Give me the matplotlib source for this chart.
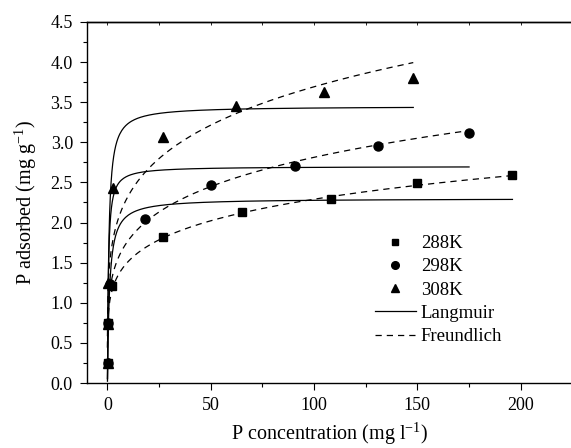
import numpy as np
import matplotlib
matplotlib.use("Agg")
import matplotlib.pyplot as plt
from matplotlib.lines import Line2D
from matplotlib.ticker import MultipleLocator, FormatStrFormatter

plt.rcParams['font.family'] = ['Liberation Serif', 'DejaVu Serif']
plt.rcParams['mathtext.fontset'] = 'custom'
plt.rcParams['mathtext.rm'] = 'Liberation Serif'
plt.rcParams['mathtext.it'] = 'Liberation Serif:italic'

# Equilibrium data: P concentration (mg/l) vs P adsorbed (mg/g)
temps = ['288K', '298K', '308K']
c_288 = [0.2, 0.5, 2.0, 27, 65, 108, 150, 196]
q_288 = [0.25, 0.75, 1.21, 1.82, 2.13, 2.29, 2.49, 2.59]
c_298 = [0.2, 0.5, 1.0, 18, 50, 91, 131, 175]
q_298 = [0.25, 0.75, 1.24, 2.04, 2.47, 2.70, 2.96, 3.11]
c_308 = [0.1, 0.4, 0.3, 2.6, 27, 62, 105, 148]
q_308 = [0.25, 0.74, 1.25, 2.43, 3.07, 3.45, 3.63, 3.80]

# Isotherm fit parameters
langmuir_qm = [2.30, 2.70, 3.45]
langmuir_kl = [1.0, 2.2, 1.5]
freundlich_kf = [1.00, 1.12, 1.47]
freundlich_inv_n = [0.18, 0.20, 0.20]

c_data = [c_288, c_298, c_308]
q_data = [q_288, q_298, q_308]
markers = ['s', 'o', '^']
msizes = [5.5, 6.5, 7.0]

fig = plt.figure(figsize=(5.71, 4.48), dpi=100)
ax = fig.add_axes([0.152, 0.145, 0.8504, 0.806])

for c, q, qm, kl, kf, inv_n, m, ms in zip(c_data, q_data, langmuir_qm, langmuir_kl,
                                          freundlich_kf, freundlich_inv_n, markers, msizes):
    cc = np.concatenate([np.linspace(0.01, 5, 200), np.linspace(5, max(c), 300)])
    ax.plot(cc, qm * kl * cc / (1 + kl * cc), color='black', lw=0.9)
    ax.plot(cc, kf * cc ** inv_n, color='black', lw=0.9, linestyle=(0, (5, 4)))
    ax.plot(c, q, linestyle='none', marker=m, ms=ms, color='black')

ax.set_xlim(-10, 225)
ax.set_ylim(0, 4.5)
ax.xaxis.set_major_locator(MultipleLocator(50))
ax.xaxis.set_minor_locator(MultipleLocator(25))
ax.yaxis.set_major_locator(MultipleLocator(0.5))
ax.yaxis.set_minor_locator(MultipleLocator(0.25))
ax.yaxis.set_major_formatter(FormatStrFormatter('%.1f'))
ax.tick_params(which='major', direction='out', length=5, width=0.8, labelsize=13)
ax.tick_params(axis='y', which='major', pad=5)
ax.tick_params(axis='x', which='major', pad=5)
ax.tick_params(which='minor', direction='out', length=3, width=0.8)
ax.tick_params(axis='x', top=False)
ax.tick_params(axis='y', right=False)

top = ax.secondary_xaxis('top')
top.xaxis.set_major_locator(MultipleLocator(25))
top.tick_params(direction='in', length=2, width=0.6, labeltop=False)
top.spines['top'].set_linewidth(1.0)

for s in ax.spines.values():
    s.set_linewidth(1.0)

ax.set_xlabel('P concentration (mg l$^{-1}$)', fontsize=14.5, labelpad=5)
ax.set_ylabel('P adsorbed (mg g$^{-1}$)', fontsize=14.5, labelpad=8)

handles = [
    Line2D([], [], linestyle='none', marker='s', ms=5, color='black'),
    Line2D([], [], linestyle='none', marker='o', ms=5.5, color='black'),
    Line2D([], [], linestyle='none', marker='^', ms=6, color='black'),
    Line2D([], [], color='black', lw=0.9),
    Line2D([], [], color='black', lw=0.9, linestyle=(0, (5, 4))),
]
labels = temps + ['Langmuir', 'Freundlich']
ax.legend(handles, labels, frameon=False, fontsize=13.5, loc='upper left',
          bbox_to_anchor=(0.593, 0.41), handlelength=2.2, handletextpad=0.25,
          labelspacing=0.33, borderaxespad=0, borderpad=0)

fig.savefig('out.png', dpi=100)
